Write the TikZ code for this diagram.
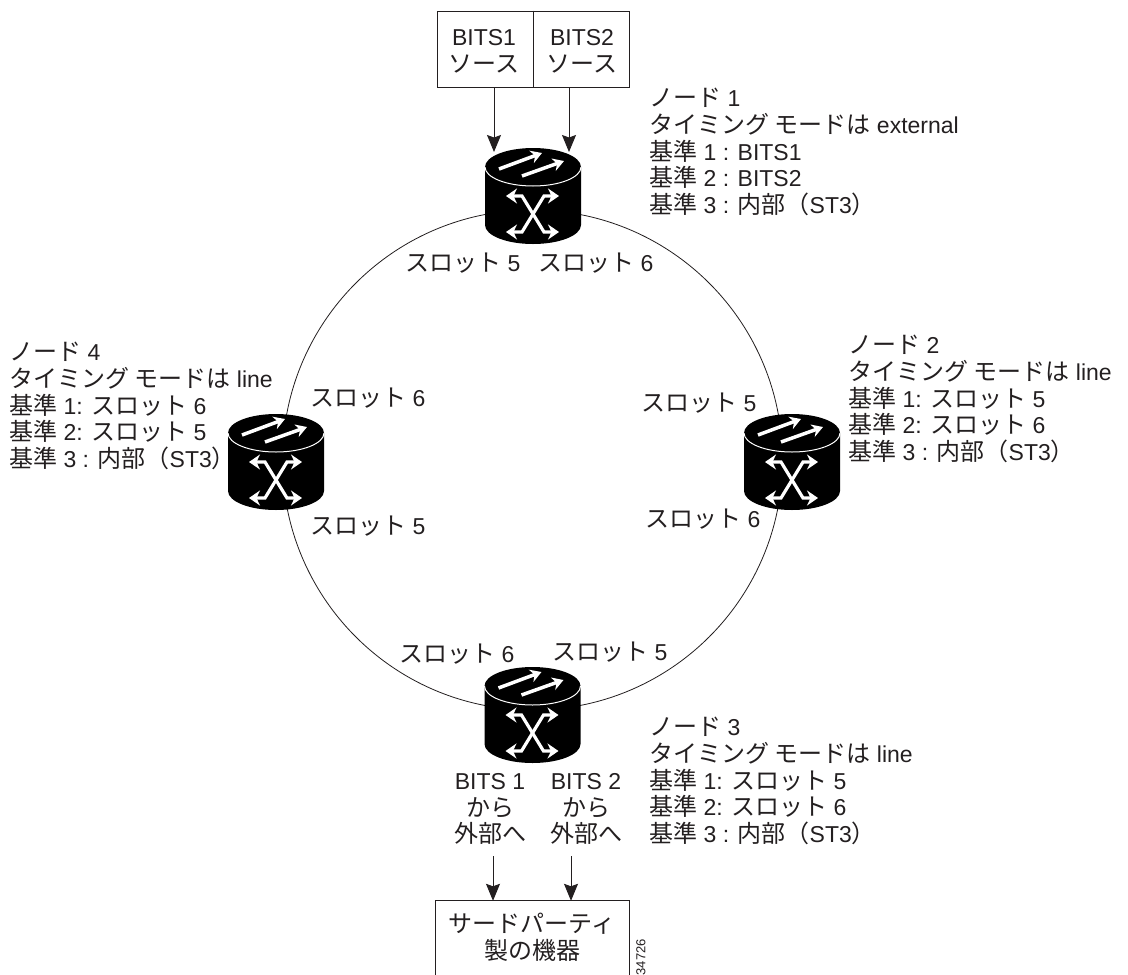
\documentclass[tikz,border=0pt]{standalone}
\usepackage{fontspec}
\setmainfont{Liberation Sans}
\newfontfamily\jpf{Noto Sans CJK JP}
\newcommand{\J}[1]{{\fontsize{24}{26.7}\selectfont\jpf #1}}
\usetikzlibrary{arrows.meta}
\definecolor{ink}{RGB}{35,31,32}
\tikzset{
  x=1pt,y=-1pt,
  every node/.style={text=ink,font=\fontsize{23}{26.7}\selectfont},
  routerbox/.style={minimum width=96pt,minimum height=96pt,inner sep=0pt,outer sep=0pt},
  router/.pic={
    \fill[black] (-48,-29) -- (-48,29) arc[start angle=180,end angle=360,x radius=48,y radius=-19] -- (48,-29) arc[start angle=0,end angle=180,x radius=48,y radius=-19] -- cycle;
    \draw[white,line width=1pt] (-48,-29) arc[start angle=180,end angle=360,x radius=48,y radius=-19];
    \draw[white,line width=3.5pt,-{Stealth[length=11pt,width=13pt]}] (-34,-27) -- (9,-43);
    \draw[white,line width=3.5pt,-{Stealth[length=11pt,width=13pt]}] (-11,-20) -- (31,-35);
    \draw[white,line width=3.2pt,{Stealth[length=11pt,width=15pt]}-{Stealth[length=11pt,width=15pt]}] (-27,0) -- (-11,0) -- (11,36) -- (26,36);
    \draw[white,line width=3.2pt,{Stealth[length=11pt,width=15pt]}-{Stealth[length=11pt,width=15pt]}] (26,0) -- (11,0) -- (-11,36) -- (-27,36);
  },
  flow/.style={draw=ink,line width=1pt,-{Stealth[length=17pt,width=14pt,inset=2.5pt]}},
  frame/.style={draw=ink,line width=1pt},
  block/.style={anchor=north west,align=left,inner sep=0pt},
  slot/.style={anchor=west,inner sep=0pt},
  stack/.style={align=center,inner sep=0pt},
}
\begin{document}
\begin{tikzpicture}
\useasboundingbox (0,0) rectangle (1128,975);
\node[draw=ink,line width=0.8pt,circle,minimum size=500pt,inner sep=0pt] (ring) at (532.5,460) {};
\node[frame,minimum width=192pt,minimum height=76pt,inner sep=0pt] (b) at (533,49) {};
\draw[frame] (b.north) -- (b.south);
\node[stack] (b1) at (484,51) {BITS1\\\J{ソース}};
\node[stack] (b2) at (582,51) {BITS2\\\J{ソース}};
\node[routerbox] (n1) at (533,196) {};
\node[routerbox] (n2) at (792,462) {};
\node[routerbox] (n3) at (532.5,715) {};
\node[routerbox] (n4) at (276,462) {};
\pic at (n1) {router};
\pic at (n2) {router};
\pic at (n3) {router};
\pic at (n4) {router};
\coordinate (t1) at (494,152);
\coordinate (t2) at (569,152);
\draw[flow] (b.south -| t1) -- (t1);
\draw[flow] (b.south -| t2) -- (t2);
\node[block] (l1) at (649,88) {\J{ノード} 1\\\J{タイミング モードは} external\\\J{基準} 1 : BITS1\\\J{基準} 2 : BITS2\\\J{基準} 3 : \J{内部（}ST3\J{）}};
\node[block] (l2) at (848,335) {\J{ノード} 2\\\J{タイミング モードは} line\\\J{基準} 1: \J{スロット} 5\\\J{基準} 2: \J{スロット} 6\\\J{基準} 3 : \J{内部（}ST3\J{）}};
\node[block] (l3) at (649,717) {\J{ノード} 3\\\J{タイミング モードは} line\\\J{基準} 1: \J{スロット} 5\\\J{基準} 2: \J{スロット} 6\\\J{基準} 3 : \J{内部（}ST3\J{）}};
\node[block] (l4) at (9,342) {\J{ノード} 4\\\J{タイミング モードは} line\\\J{基準} 1: \J{スロット} 6\\\J{基準} 2: \J{スロット} 5\\\J{基準} 3 : \J{内部（}ST3\J{）}};
\node[slot] (s1) at (405,263) {\J{スロット} 5};
\node[slot] (s2) at (538,263) {\J{スロット} 6};
\node[slot] (s3) at (310,398) {\J{スロット} 6};
\node[slot] (s4) at (310,526) {\J{スロット} 5};
\node[slot] (s5) at (641,403) {\J{スロット} 5};
\node[slot] (s6) at (645,519) {\J{スロット} 6};
\node[slot] (s7) at (399,654) {\J{スロット} 6};
\node[slot] (s8) at (552,652) {\J{スロット} 5};
\node[stack] (o1) at (490,809) {BITS 1\\\J{から}\\\J{外部へ}};
\node[stack] (o2) at (586,809) {BITS 2\\\J{から}\\\J{外部へ}};
\node[minimum width=193pt,minimum height=74pt,inner sep=0pt] (tp) at (532.5,938) {};
\node[stack] (tpt) at (532,937) {\J{サードパーティ}\\\J{製の機器}};
\draw[frame] (tp.south west) -- (tp.north west) -- (tp.north east) -- (tp.south east);
\coordinate (f1) at (493,856);
\coordinate (f2) at (571,856);
\draw[flow] (f1) -- (f1 |- tp.north);
\draw[flow] (f2) -- (f2 |- tp.north);
\node[rotate=90,font=\fontsize{13}{13}\selectfont,inner sep=0pt,anchor=east] (id) at (641,939) {34726};
\end{tikzpicture}
\end{document}
